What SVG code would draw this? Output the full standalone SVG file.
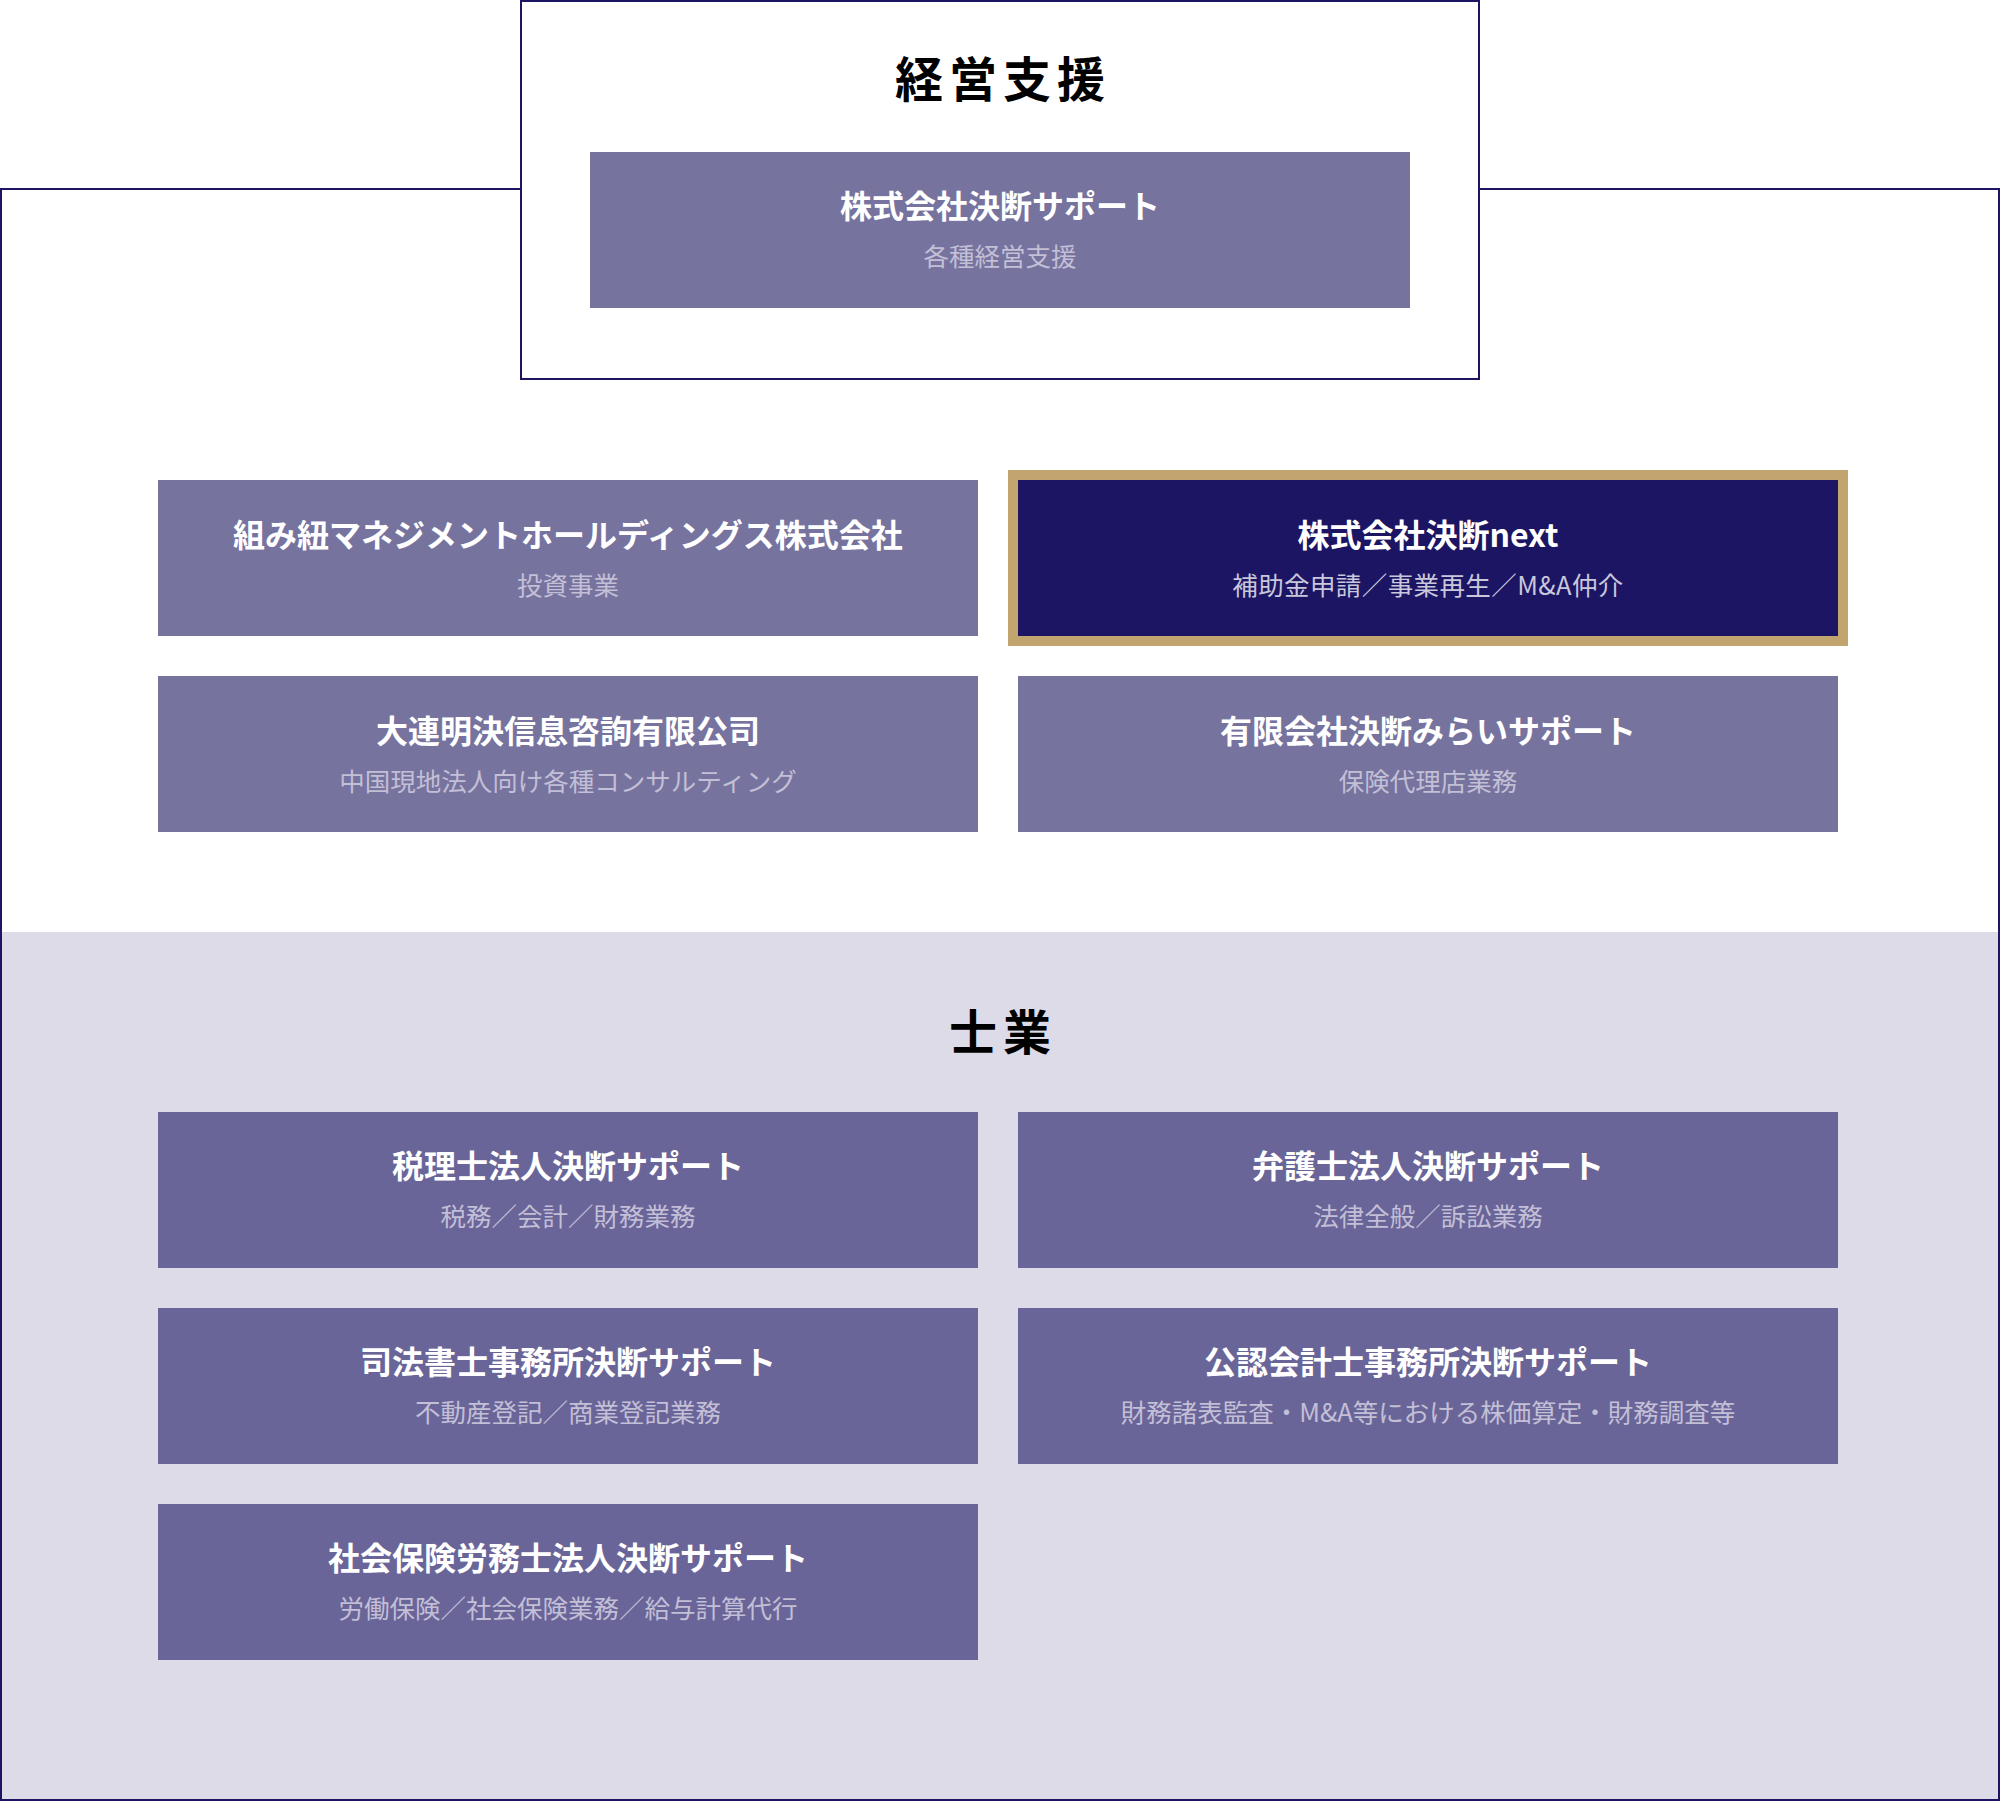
<svg xmlns="http://www.w3.org/2000/svg" width="2000" height="1802" viewBox="0 0 2000 1802">
<style>
.frame{fill:#ffffff;stroke:#1c1563;stroke-width:2}
.box{fill:#77739f}
.boxl{fill:#6a6599}
.navy{fill:#1c1563}
.gold{fill:#c2a46e}
text{font-family:"Noto Sans CJK JP","Noto Sans",sans-serif;text-anchor:middle;dominant-baseline:central}
.sec{font-size:48px;font-weight:700;fill:#000000;letter-spacing:6px}
.t{font-size:32px;font-weight:700;fill:#ffffff}
.s{font-size:25.5px;font-weight:400;fill:#c2bfd6}
.sn{font-size:25.5px;font-weight:400;fill:#c9c7db;letter-spacing:0.4px}
</style>
<rect width="2000" height="1802" fill="#ffffff"/>
<g id="frame">
<rect x="1" y="189" width="1998" height="1611" class="frame"/>
<rect x="2" y="932" width="1996" height="867" fill="#dddbe8"/>
</g>
<g id="keiei">
<rect x="521" y="1" width="958" height="378" class="frame"/>
<text x="1003" y="76" class="sec">経営支援</text>
</g>
<g id="ketsudan-support">
<rect x="590" y="152" width="820" height="156" class="box"/>
<text x="1000" y="204" class="t">株式会社決断サポート</text>
<text x="1000" y="254" class="s">各種経営支援</text>
</g>
<g id="kumihimo">
<rect x="158" y="480" width="820" height="156" class="box"/>
<text x="568" y="533" class="t">組み紐マネジメントホールディングス株式会社</text>
<text x="568" y="583" class="s">投資事業</text>
</g>
<g id="next">
<rect x="1008" y="470" width="840" height="176" class="gold"/>
<rect x="1018" y="480" width="820" height="156" class="navy"/>
<text x="1428" y="533" class="t">株式会社決断next</text>
<text x="1428" y="583" class="sn">補助金申請／事業再生／M&amp;A仲介</text>
</g>
<g id="dalian">
<rect x="158" y="676" width="820" height="156" class="box"/>
<text x="568" y="729" class="t">大連明決信息咨詢有限公司</text>
<text x="568" y="779" class="s">中国現地法人向け各種コンサルティング</text>
</g>
<g id="mirai">
<rect x="1018" y="676" width="820" height="156" class="box"/>
<text x="1428" y="729" class="t">有限会社決断みらいサポート</text>
<text x="1428" y="779" class="s">保険代理店業務</text>
</g>
<g id="shigyo">
<text x="1003" y="1029" class="sec">士業</text>
</g>
<g id="zeirishi">
<rect x="158" y="1112" width="820" height="156" class="boxl"/>
<text x="568" y="1164" class="t">税理士法人決断サポート</text>
<text x="568" y="1214" class="s">税務／会計／財務業務</text>
</g>
<g id="bengoshi">
<rect x="1018" y="1112" width="820" height="156" class="boxl"/>
<text x="1428" y="1164" class="t">弁護士法人決断サポート</text>
<text x="1428" y="1214" class="s">法律全般／訴訟業務</text>
</g>
<g id="shihoshoshi">
<rect x="158" y="1308" width="820" height="156" class="boxl"/>
<text x="568" y="1360" class="t">司法書士事務所決断サポート</text>
<text x="568" y="1410" class="s">不動産登記／商業登記業務</text>
</g>
<g id="kaikeishi">
<rect x="1018" y="1308" width="820" height="156" class="boxl"/>
<text x="1428" y="1360" class="t">公認会計士事務所決断サポート</text>
<text x="1428" y="1410" class="s">財務諸表監査・M&amp;A等における株価算定・財務調査等</text>
</g>
<g id="sharoshi">
<rect x="158" y="1504" width="820" height="156" class="boxl"/>
<text x="568" y="1556" class="t">社会保険労務士法人決断サポート</text>
<text x="568" y="1606" class="s">労働保険／社会保険業務／給与計算代行</text>
</g>
<g id="connectors"></g>
</svg>
